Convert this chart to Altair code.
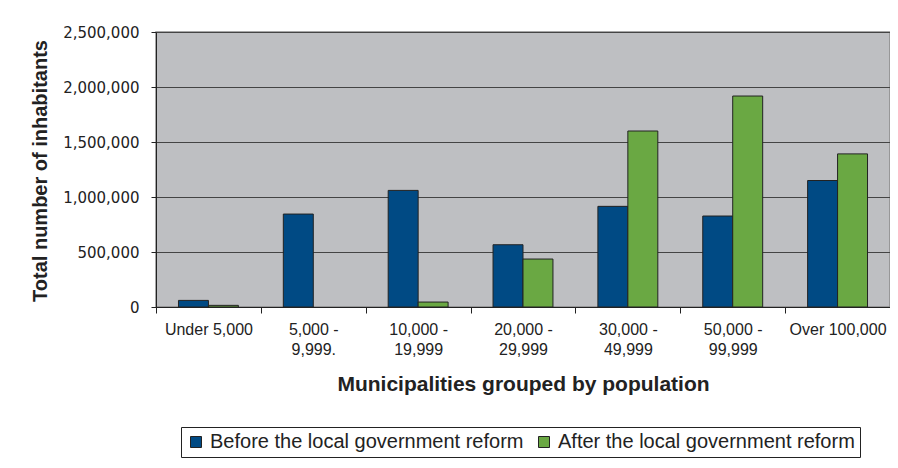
import altair as alt
import pandas as pd

categories = ["Under 5,000", "5,000 - 9,999.", "10,000 - 19,999", "20,000 - 29,999",
              "30,000 - 49,999", "50,000 - 99,999", "Over 100,000"]
series = ["Before the local government reform", "After the local government reform"]
before = [60000, 845000, 1060000, 566000, 915000, 827000, 1150000]
after = [15000, 0, 45000, 436000, 1600000, 1918000, 1392000]
colors = ["#004a84", "#6aa843"]
y_ticks = [0, 500000, 1000000, 1500000, 2000000, 2500000]

rows = []
for i, c in enumerate(categories):
    rows.append({"group": c, "period": series[0], "value": before[i]})
    rows.append({"group": c, "period": series[1], "value": after[i]})
df = pd.DataFrame(rows)

W, H = 734, 275

chart = alt.Chart(df).transform_filter("datum.value > 0").mark_bar(
    stroke="#222222", strokeWidth=1
).encode(
    x=alt.X("group:N", sort=categories,
            scale=alt.Scale(domain=categories, paddingInner=0, paddingOuter=0),
            axis=alt.Axis(title="Municipalities grouped by population",
                          labelAngle=0, tickBand="extent", tickSize=6,
                          tickColor="#222222", domainColor="#222222",
                          labelFont="Liberation Sans", labelFontSize=16,
                          labelColor="#222222", labelPadding=8,
                          labelLineHeight=20, labelBaseline="top",
                          labelExpr="split(replace(datum.label, ' - ', ' -|'), '|')",
                          titleFont="Liberation Sans", titleFontSize=21,
                          titleFontWeight="bold", titleColor="#222222",
                          titleX=W / 2, titleY=83, titleBaseline="alphabetic",
                          titleAlign="center")),
    xOffset=alt.XOffset("period:N", sort=series,
                        scale=alt.Scale(domain=series, paddingInner=0, paddingOuter=0.75)),
    y=alt.Y("value:Q", scale=alt.Scale(domain=[0, 2500000], nice=False),
            axis=alt.Axis(title="Total number of inhabitants", values=y_ticks,
                          format=",d", tickSize=5, tickColor="#222222",
                          domainColor="#222222", gridColor="#444444",
                          labelFont="DejaVu Sans", labelFontSize=15,
                          labelColor="#222222", labelPadding=12,
                          titleFont="Liberation Sans", titleFontSize=20,
                          titleFontWeight="bold", titleColor="#222222",
                          titleX=-110, titleY=H / 2 + 1, titleBaseline="alphabetic",
                          titleAlign="center", titleAngle=-90)),
    color=alt.Color("period:N", sort=series,
                    scale=alt.Scale(domain=series, range=colors),
                    legend=alt.Legend(title=None, orient="none", legendX=25, legendY=395,
                                      direction="horizontal", symbolType="square",
                                      symbolSize=121, symbolStrokeColor="#222222",
                                      symbolStrokeWidth=1, labelFont="Liberation Sans",
                                      labelFontSize=20, labelColor="#222222",
                                      labelLimit=1000, labelOffset=4, columnPadding=10,
                                      strokeColor="#222222", fillColor="white",
                                      padding=5)),
).properties(
    width=W, height=H,
    autosize=alt.AutoSizeParams(type="none"),
    padding={"left": 148, "top": 24, "right": 0, "bottom": 153},
    background="white",
).configure_view(
    fill="#bebfc2", stroke="#8a8a8a", strokeWidth=1.5
)

chart.save("out.html", embed_options={"renderer": "svg", "actions": False})
